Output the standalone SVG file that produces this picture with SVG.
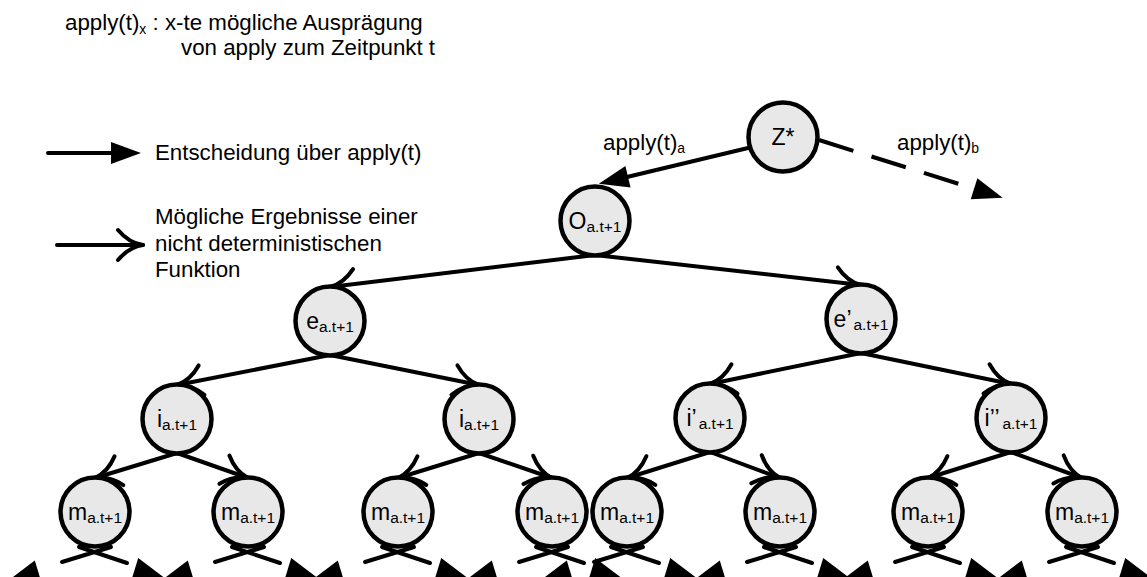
<svg xmlns="http://www.w3.org/2000/svg" width="1147" height="577" viewBox="0 0 1147 577">
<style>
  text { font-family: "Liberation Sans", Arial, sans-serif; fill: #000; }
  .txt { font-size: 22.3px; }
  .tsub { font-size: 14px; }
  .node circle { fill: #e8e8e8; stroke: #000; stroke-width: 4.5; }
  .lbl { font-size: 23px; text-anchor: middle; }
  .sub { font-size: 15.5px; }
  .edge { stroke: #000; stroke-width: 4; fill: none; stroke-linecap: round; }
  .dec { marker-end: url(#head); }
  .dash { stroke-dasharray: 36 19; stroke-linecap: butt; }
  .res { marker-end: url(#open); }
</style>
<defs>
  <!-- filled head: decision over apply(t) -->
  <marker id="head" markerUnits="userSpaceOnUse" orient="auto" refX="1" refY="0" markerWidth="40" markerHeight="30" style="overflow:visible">
    <path d="M0,-11 L30,0 L0,11 Z" fill="#000"/>
  </marker>
  <!-- open curved head: possible results of a non-deterministic function -->
  <marker id="open" markerUnits="userSpaceOnUse" orient="auto" refX="0" refY="0" markerWidth="40" markerHeight="40" style="overflow:visible">
    <path d="M-25,-15 Q-14,-2 0,0 Q-14,2 -25,15" fill="none" stroke="#000" stroke-width="4" stroke-linecap="round" stroke-linejoin="round"/>
  </marker>
  <path id="tri" d="M0,-11 L30,0 L0,11 Z" fill="#000"/>
</defs>

<!-- heading -->
<text class="txt" x="65" y="30">apply(t)<tspan class="tsub" dy="4">x</tspan><tspan dy="-4"> : x-te mögliche Ausprägung</tspan></text>
<text class="txt" x="181" y="55">von apply zum Zeitpunkt t</text>

<!-- legend -->
<g id="legend">
  <line class="edge dec" x1="48" y1="153" x2="112" y2="153"/>
  <text class="txt" x="155" y="160">Entscheidung über apply(t)</text>
  <line class="edge res" x1="57" y1="245" x2="143" y2="245"/>
  <text class="txt" x="155" y="224">Mögliche Ergebnisse einer</text>
  <text class="txt" x="155" y="251">nicht deterministischen</text>
  <text class="txt" x="155" y="277">Funktion</text>
</g>

<!-- connectors -->
<g id="connectors">
  <line class="edge dec" x1="748" y1="148" x2="627" y2="177"/>
  <line class="edge dec dash" x1="819" y1="140" x2="975" y2="189"/>
  <text class="txt" x="603" y="150">apply(t)<tspan class="tsub" dy="3">a</tspan></text>
  <text class="txt" x="897" y="150">apply(t)<tspan class="tsub" dy="3">b</tspan></text>

  <line class="edge res" x1="595" y1="255" x2="330" y2="287"/>
  <line class="edge res" x1="595" y1="255" x2="861" y2="285"/>
  <line class="edge res" x1="330" y1="355" x2="177" y2="385"/>
  <line class="edge res" x1="330" y1="355" x2="479" y2="385"/>
  <line class="edge res" x1="861" y1="353" x2="710" y2="384"/>
  <line class="edge res" x1="861" y1="353" x2="1011" y2="384"/>
  <line class="edge res" x1="177" y1="453" x2="95" y2="478"/>
  <line class="edge res" x1="177" y1="453" x2="248" y2="478"/>
  <line class="edge res" x1="479" y1="453" x2="398" y2="478"/>
  <line class="edge res" x1="479" y1="453" x2="552" y2="478"/>
  <line class="edge res" x1="710" y1="452" x2="627" y2="478"/>
  <line class="edge res" x1="710" y1="452" x2="780" y2="478"/>
  <line class="edge res" x1="1011" y1="452" x2="928" y2="478"/>
  <line class="edge res" x1="1011" y1="452" x2="1082" y2="478"/>

  <!-- outgoing decisions below the last row -->
  <path class="edge" d="M111,547 L62,562 M79,547 L127,563"/>
  <use href="#tri" transform="translate(38,571) rotate(163)"/>
  <use href="#tri" transform="translate(135,568.5) rotate(17)"/>
  <path class="edge" d="M264,547 L215,562 M232,547 L280,563"/>
  <use href="#tri" transform="translate(191,571) rotate(163)"/>
  <use href="#tri" transform="translate(288,568.5) rotate(17)"/>
  <path class="edge" d="M414,547 L365,562 M382,547 L430,563"/>
  <use href="#tri" transform="translate(341,571) rotate(163)"/>
  <use href="#tri" transform="translate(438,568.5) rotate(17)"/>
  <path class="edge" d="M568,547 L519,562 M536,547 L584,563"/>
  <use href="#tri" transform="translate(495,571) rotate(163)"/>
  <use href="#tri" transform="translate(592,568.5) rotate(17)"/>
  <path class="edge" d="M643,547 L594,562 M611,547 L659,563"/>
  <use href="#tri" transform="translate(570,571) rotate(163)"/>
  <use href="#tri" transform="translate(667,568.5) rotate(17)"/>
  <path class="edge" d="M796,547 L747,562 M764,547 L812,563"/>
  <use href="#tri" transform="translate(723,571) rotate(163)"/>
  <use href="#tri" transform="translate(820,568.5) rotate(17)"/>
  <path class="edge" d="M944,547 L895,562 M912,547 L960,563"/>
  <use href="#tri" transform="translate(871,571) rotate(163)"/>
  <use href="#tri" transform="translate(968,568.5) rotate(17)"/>
  <path class="edge" d="M1098,547 L1049,562 M1066,547 L1114,563"/>
  <use href="#tri" transform="translate(1025,571) rotate(163)"/>
  <use href="#tri" transform="translate(1122,568.5) rotate(17)"/>
</g>

<!-- nodes -->
<g id="z" class="node"><circle cx="783" cy="137" r="34.5"/><text class="lbl" x="783" y="145">Z*</text></g>
<g id="o" class="node"><circle cx="595" cy="221" r="34.5"/><text class="lbl" x="595" y="229">O<tspan class="sub" dy="3">a.t+1</tspan></text></g>
<g id="e1" class="node"><circle cx="330" cy="321" r="34.5"/><text class="lbl" x="330" y="329">e<tspan class="sub" dy="3">a.t+1</tspan></text></g>
<g id="e2" class="node"><circle cx="861" cy="319" r="34.5"/><text class="lbl" x="861" y="327">e’<tspan class="sub" dy="3" dx="2">a.t+1</tspan></text></g>
<g id="i1" class="node"><circle cx="177" cy="419" r="34.5"/><text class="lbl" x="177" y="427">i<tspan class="sub" dy="3">a.t+1</tspan></text></g>
<g id="i2" class="node"><circle cx="479" cy="419" r="34.5"/><text class="lbl" x="479" y="427">i<tspan class="sub" dy="3">a.t+1</tspan></text></g>
<g id="i3" class="node"><circle cx="710" cy="418" r="34.5"/><text class="lbl" x="710" y="426">i’<tspan class="sub" dy="3" dx="2">a.t+1</tspan></text></g>
<g id="i4" class="node"><circle cx="1011" cy="418" r="34.5"/><text class="lbl" x="1011" y="426">i’’<tspan class="sub" dy="3" dx="3">a.t+1</tspan></text></g>
<g id="m1" class="node"><circle cx="95" cy="512" r="34.5"/><text class="lbl" x="95" y="520">m<tspan class="sub" dy="3">a.t+1</tspan></text></g>
<g id="m2" class="node"><circle cx="248" cy="512" r="34.5"/><text class="lbl" x="248" y="520">m<tspan class="sub" dy="3">a.t+1</tspan></text></g>
<g id="m3" class="node"><circle cx="398" cy="512" r="34.5"/><text class="lbl" x="398" y="520">m<tspan class="sub" dy="3">a.t+1</tspan></text></g>
<g id="m4" class="node"><circle cx="552" cy="512" r="34.5"/><text class="lbl" x="552" y="520">m<tspan class="sub" dy="3">a.t+1</tspan></text></g>
<g id="m5" class="node"><circle cx="627" cy="512" r="34.5"/><text class="lbl" x="627" y="520">m<tspan class="sub" dy="3">a.t+1</tspan></text></g>
<g id="m6" class="node"><circle cx="780" cy="512" r="34.5"/><text class="lbl" x="780" y="520">m<tspan class="sub" dy="3">a.t+1</tspan></text></g>
<g id="m7" class="node"><circle cx="928" cy="512" r="34.5"/><text class="lbl" x="928" y="520">m<tspan class="sub" dy="3">a.t+1</tspan></text></g>
<g id="m8" class="node"><circle cx="1082" cy="512" r="34.5"/><text class="lbl" x="1082" y="520">m<tspan class="sub" dy="3">a.t+1</tspan></text></g>
</svg>
